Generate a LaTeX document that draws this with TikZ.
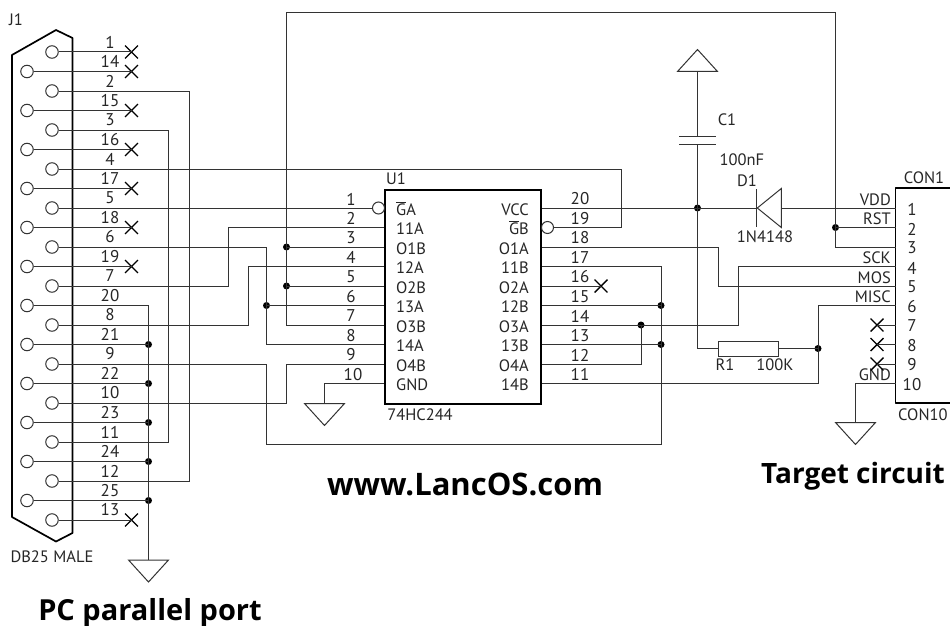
\documentclass[tikz,border=0pt]{standalone}
\usepackage{fontspec}
\setmainfont{PT Sans}
\newfontfamily\titlefont{Open Sans}
\usepackage{tikz}
\usetikzlibrary{shapes,positioning}
\definecolor{wirecol}{gray}{0.2}
\tikzset{
  wire/.style={draw=wirecol,line width=1pt,line join=miter},
  shell/.style={draw=black,line width=1.7pt,line join=round},
  hole/.style={circle,draw=wirecol,line width=1pt,fill=white,minimum size=12.5pt,inner sep=0pt},
  bubble/.style={circle,draw=wirecol,line width=1pt,minimum size=12pt,inner sep=0pt},
  dot/.style={circle,fill=black,minimum size=7pt,inner sep=0pt},
  nc/.style={cross out,draw=black,line width=1.4pt,minimum size=11.5pt,inner sep=0pt},
  gnd/.style={isosceles triangle,isosceles triangle stretches,shape border rotate=-90,
    draw=wirecol,line width=1pt,inner sep=0pt,minimum height=22pt,minimum width=40pt,anchor=lower side},
  vcc/.style={gnd,shape border rotate=90},
  num/.style={font=\fontsize{17}{17}\selectfont,text=black!85,inner sep=0pt},
  lab/.style={font=\fontsize{16.5}{17}\selectfont,text=black!85,inner sep=0pt},
  title/.style={font=\titlefont\fontsize{28}{30}\selectfont\bfseries,text=black,inner sep=0pt,anchor=base}
}
\begin{document}
\begin{tikzpicture}[x=1pt,y=-1pt,>=stealth]
    \useasboundingbox (0,0) rectangle (950,626);

    % DB25
    \coordinate (s1) at (12,55);
    \coordinate (s2) at (56,30);
    \coordinate (s3) at (72.5,38);
    \coordinate (s4) at (72.5,533);
    \coordinate (s5) at (56,541.5);
    \coordinate (s6) at (12,517);
    \draw [shell] (s1) -- (s2) -- (s3) -- (s4) -- (s5) -- (s6) -- cycle;
    \node[lab] (j1) at (16,20) {J1};
    \node[lab] (dbname) at (52,557) {DB25 MALE};
    \node[title,font=\titlefont\fontsize{29}{30}\selectfont\bfseries] (pcport) at (150,620) {PC parallel port};

    \node[hole] (p1) at (52,52) {};
    \node[hole] (p14) at (27,71.5) {};
    \node[hole] (p2) at (52,91) {};
    \node[hole] (p15) at (27,110.5) {};
    \node[hole] (p3) at (52,130) {};
    \node[hole] (p16) at (27,149.5) {};
    \node[hole] (p4) at (52,169) {};
    \node[hole] (p17) at (27,188.5) {};
    \node[hole] (p5) at (52,208) {};
    \node[hole] (p18) at (27,227.5) {};
    \node[hole] (p6) at (52,247) {};
    \node[hole] (p19) at (27,266.5) {};
    \node[hole] (p7) at (52,286) {};
    \node[hole] (p20) at (27,305.5) {};
    \node[hole] (p8) at (52,325) {};
    \node[hole] (p21) at (27,344.5) {};
    \node[hole] (p9) at (52,364) {};
    \node[hole] (p22) at (27,383.5) {};
    \node[hole] (p10) at (52,403) {};
    \node[hole] (p23) at (27,422.5) {};
    \node[hole] (p11) at (52,442) {};
    \node[hole] (p24) at (27,461.5) {};
    \node[hole] (p12) at (52,481) {};
    \node[hole] (p25) at (27,500.5) {};
    \node[hole] (p13) at (52,520) {};

    \node[num] (n1) at (110,42) {1};
    \node[num] (n14) at (110,61.5) {14};
    \node[num] (n2) at (110,81) {2};
    \node[num] (n15) at (110,100.5) {15};
    \node[num] (n3) at (110,120) {3};
    \node[num] (n16) at (110,139.5) {16};
    \node[num] (n4) at (110,159) {4};
    \node[num] (n17) at (110,178.5) {17};
    \node[num] (n5) at (110,198) {5};
    \node[num] (n18) at (110,217.5) {18};
    \node[num] (n6) at (110,237) {6};
    \node[num] (n19) at (110,256.5) {19};
    \node[num] (n7) at (110,276) {7};
    \node[num] (n20) at (110,295.5) {20};
    \node[num] (n8) at (110,315) {8};
    \node[num] (n21) at (110,334.5) {21};
    \node[num] (n9) at (110,354) {9};
    \node[num] (n22) at (110,373.5) {22};
    \node[num] (n10) at (110,393) {10};
    \node[num] (n23) at (110,412.5) {23};
    \node[num] (n11) at (110,432) {11};
    \node[num] (n24) at (110,451.5) {24};
    \node[num] (n12) at (110,471) {12};
    \node[num] (n25) at (110,490.5) {25};
    \node[num] (n13) at (110,510) {13};

    \node[nc] (x1) at (131.5,52) {};
    \node[nc] (x14) at (131.5,71.5) {};
    \node[nc] (x15) at (131.5,110.5) {};
    \node[nc] (x16) at (131.5,149.5) {};
    \node[nc] (x17) at (131.5,188.5) {};
    \node[nc] (x18) at (131.5,227.5) {};
    \node[nc] (x19) at (131.5,266.5) {};
    \node[nc] (x13) at (131.5,520) {};

    % U1
    \node[draw=black,line width=1.7pt,minimum width=156pt,minimum height=214pt,inner sep=0pt] (u1) at (463,297) {};
    \node[lab] (u1name) at (396,179) {U1};
    \node[lab] (u1type) at (420,415) {74HC244};
    \node[bubble] (bub1) at (378.5,208) {};
    \node[bubble] (bub19) at (547.5,227.5) {};

    \node[lab,anchor=base west] (ga) at (396,215) {$\overline{\mbox{G}}$A};
    \node[lab,anchor=base west] (a11) at (396,234.5) {11A};
    \node[lab,anchor=base west] (o1b) at (396,254) {O1B};
    \node[lab,anchor=base west] (a12) at (396,273.5) {12A};
    \node[lab,anchor=base west] (o2b) at (396,293) {O2B};
    \node[lab,anchor=base west] (a13) at (396,312.5) {13A};
    \node[lab,anchor=base west] (o3b) at (396,332) {O3B};
    \node[lab,anchor=base west] (a14) at (396,351.5) {14A};
    \node[lab,anchor=base west] (o4b) at (396,371) {O4B};
    \node[lab,anchor=base west] (ugnd) at (396,390.5) {GND};
    \node[lab,anchor=base east] (uvcc) at (529,215) {VCC};
    \node[lab,anchor=base east] (gb) at (529,234.5) {$\overline{\mbox{G}}$B};
    \node[lab,anchor=base east] (o1a) at (529,254) {O1A};
    \node[lab,anchor=base east] (b11) at (529,273.5) {11B};
    \node[lab,anchor=base east] (o2a) at (529,293) {O2A};
    \node[lab,anchor=base east] (b12) at (529,312.5) {12B};
    \node[lab,anchor=base east] (o3a) at (529,332) {O3A};
    \node[lab,anchor=base east] (b13) at (529,351.5) {13B};
    \node[lab,anchor=base east] (o4a) at (529,371) {O4A};
    \node[lab,anchor=base east] (b14) at (529,390.5) {14B};

    \node[num] (m1) at (351,199) {1};
    \node[num] (m2) at (351,218.5) {2};
    \node[num] (m3) at (351,238) {3};
    \node[num] (m4) at (351,257.5) {4};
    \node[num] (m5) at (351,277) {5};
    \node[num] (m6) at (351,296.5) {6};
    \node[num] (m7) at (351,316) {7};
    \node[num] (m8) at (351,335.5) {8};
    \node[num] (m9) at (351,355) {9};
    \node[num] (m10) at (353,374.5) {10};
    \node[num] (m20) at (580,199) {20};
    \node[num] (m19) at (580,218.5) {19};
    \node[num] (m18) at (580,238) {18};
    \node[num] (m17) at (580,257.5) {17};
    \node[num] (m16) at (580,277) {16};
    \node[num] (m15) at (580,296.5) {15};
    \node[num] (m14) at (580,316) {14};
    \node[num] (m13) at (580,335.5) {13};
    \node[num] (m12) at (580,355) {12};
    \node[num] (m11) at (580,374.5) {11};

    \coordinate (u2) at (u1.west |- 0,227.5);
    \coordinate (u3) at (u1.west |- 0,247);
    \coordinate (u4) at (u1.west |- 0,266.5);
    \coordinate (u5) at (u1.west |- 0,286);
    \coordinate (u6) at (u1.west |- 0,305.5);
    \coordinate (u7) at (u1.west |- 0,325);
    \coordinate (u8) at (u1.west |- 0,344.5);
    \coordinate (u9) at (u1.west |- 0,364);
    \coordinate (u10) at (u1.west |- 0,383.5);
    \coordinate (u20) at (u1.east |- 0,208);
    \coordinate (u18) at (u1.east |- 0,247);
    \coordinate (u17) at (u1.east |- 0,266.5);
    \coordinate (u16) at (u1.east |- 0,286);
    \coordinate (u15) at (u1.east |- 0,305.5);
    \coordinate (u14) at (u1.east |- 0,325);
    \coordinate (u13) at (u1.east |- 0,344.5);
    \coordinate (u12) at (u1.east |- 0,364);
    \coordinate (u11) at (u1.east |- 0,383.5);
    \node[nc] (x16u) at (601,286) {};

    % CON1
    \coordinate (c1) at (950,188);
    \coordinate (c2) at (895.5,188);
    \coordinate (c3) at (895.5,403);
    \coordinate (c4) at (950,403);
    \draw [shell] (c1) -- (c2) -- (c3) -- (c4);
    \node[lab] (conname) at (924,178) {CON1};
    \node[lab,anchor=west] (contype) at (898,415) {CON10};
    \node[title] (target) at (853,483) {Target circuit};
    \node[title,font=\titlefont\fontsize{31}{32}\selectfont\bfseries] (lancos) at (465,495) {www.LancOS.com};

    \node[num] (t1) at (912,209) {1};
    \node[num] (t2) at (912,229) {2};
    \node[num] (t3) at (912,248) {3};
    \node[num] (t4) at (912,268) {4};
    \node[num] (t5) at (912,287) {5};
    \node[num] (t6) at (912,306.5) {6};
    \node[num] (t7) at (912,326) {7};
    \node[num] (t8) at (912,345.5) {8};
    \node[num] (t9) at (912,365) {9};
    \node[num] (t10) at (912,384.5) {10};

    \node[lab,anchor=east] (vdd) at (891,200) {VDD};
    \node[lab,anchor=east] (rst) at (891,219) {RST};
    \node[lab,anchor=east] (sck) at (891,258) {SCK};
    \node[lab,anchor=east] (mos) at (891,278) {MOS};
    \node[lab,anchor=east] (misc) at (891,297) {MISC};
    \node[lab,anchor=east] (tgnd) at (891,375) {GND};

    \coordinate (k1) at (895.5,208);
    \coordinate (k2) at (895.5,227.5);
    \coordinate (k3) at (895.5,247);
    \coordinate (k4) at (895.5,266.5);
    \coordinate (k5) at (895.5,286);
    \coordinate (k6) at (895.5,305.5);
    \coordinate (k7) at (895.5,325);
    \coordinate (k8) at (895.5,344.5);
    \coordinate (k9) at (895.5,364);
    \coordinate (k10) at (895.5,383.5);
    \node[nc] (x7) at (877,325) {};
    \node[nc] (x8) at (877,344.5) {};
    \node[nc] (x9) at (877,364) {};

    % parts
    \node[vcc] (vcc) at (697.5,72) {};
    \coordinate (c1a) at (679,136.5);
    \coordinate (c1b) at (716,136.5);
    \coordinate (c1c) at (679,144.5);
    \coordinate (c1d) at (716,144.5);
    \coordinate (c1t) at (697.5,136.5);
    \coordinate (c1u) at (697.5,144.5);
    \node[lab] (c1name) at (727,120) {C1};
    \node[lab] (c1val) at (742,160) {100nF};
    \node[dot] (jd) at (697.5,208) {};

    \node[isosceles triangle,isosceles triangle stretches,shape border rotate=180,draw=wirecol,line width=1pt,
        inner sep=0pt,minimum height=24pt,minimum width=39pt,anchor=apex] (d1) at (756,208) {};
    \coordinate (d1a) at (756,189);
    \coordinate (d1b) at (756,227);
    \node[lab] (d1name) at (747,181) {D1};
    \node[lab] (d1val) at (765,237) {1N4148};

    \node[draw=wirecol,line width=1pt,minimum width=60pt,minimum height=15pt,inner sep=0pt] (r1) at (748,348.5) {};
    \node[lab] (r1name) at (725,365) {R1};
    \node[lab] (r1val) at (775,365) {100K};
    \coordinate (r1l) at (697.5,348.5);

    % junctions
    \node[dot] (j21) at (148.5,344.5) {};
    \node[dot] (j22) at (148.5,383.5) {};
    \node[dot] (j23) at (148.5,422.5) {};
    \node[dot] (j24) at (148.5,461.5) {};
    \node[dot] (j25) at (148.5,500.5) {};
    \node[gnd] (gndp) at (148.5,559.5) {};
    \node[dot] (j3) at (286.5,247) {};
    \node[dot] (j5) at (286.5,286) {};
    \node[dot] (j6) at (266.5,305.5) {};
    \node[dot] (j15) at (661,305.5) {};
    \node[dot] (j13) at (661,344.5) {};
    \node[dot] (j14) at (641,325) {};
    \node[dot] (jrst) at (835.5,227.5) {};
    \node[dot] (jr1) at (818,348.5) {};
    \node[gnd] (gndu) at (324.5,403) {};
    \node[gnd] (gndt) at (855.5,422) {};

    % bends
    \coordinate (b2a) at (189,91);
    \coordinate (b2b) at (189,481);
    \coordinate (b3a) at (168.5,130);
    \coordinate (b3b) at (168.5,442);
    \coordinate (b4a) at (621,169);
    \coordinate (b4b) at (621,227.5);
    \coordinate (b7a) at (228,286);
    \coordinate (b7b) at (228,227.5);
    \coordinate (b8a) at (248.5,325);
    \coordinate (b8b) at (248.5,266.5);
    \coordinate (b6a) at (266.5,247);
    \coordinate (b6b) at (266.5,344.5);
    \coordinate (b9a) at (266.5,364);
    \coordinate (b9b) at (266.5,444);
    \coordinate (b9c) at (661,444);
    \coordinate (b9d) at (661,266.5);
    \coordinate (b10a) at (286.5,403);
    \coordinate (b10b) at (286.5,364);
    \coordinate (b20) at (148.5,305.5);
    \coordinate (bu7) at (286.5,325);
    \coordinate (btop1) at (286.5,13);
    \coordinate (btop2) at (835.5,13);
    \coordinate (btop3) at (835.5,247);
    \coordinate (bg) at (324.5,383.5);
    \coordinate (b14a) at (738,325);
    \coordinate (b14b) at (738,266.5);
    \coordinate (b18a) at (718,247);
    \coordinate (b18b) at (718,286);
    \coordinate (b12) at (641,364);
    \coordinate (b11a) at (818,383.5);
    \coordinate (b11b) at (818,305.5);
    \coordinate (bg2) at (855.5,383.5);

    \begin{scope}[every path/.style={wire}]
    \draw (p1) -- (x1.center);
    \draw (p14) -- (x14.center);
    \draw (p15) -- (x15.center);
    \draw (p16) -- (x16.center);
    \draw (p17) -- (x17.center);
    \draw (p18) -- (x18.center);
    \draw (p19) -- (x19.center);
    \draw (p13) -- (x13.center);
    \draw (p2) -- (b2a) -- (b2b) -- (p12);
    \draw (p3) -- (b3a) -- (b3b) -- (p11);
    \draw (p4) -- (b4a) -- (b4b) -- (bub19);
    \draw (p5) -- (bub1);
    \draw (p7) -- (b7a) -- (b7b) -- (u2);
    \draw (p8) -- (b8a) -- (b8b) -- (u4);
    \draw (p6) -- (b6a) -- (b6b) -- (u8);
    \draw (j6.center) -- (u6);
    \draw (p9) -- (b9a) -- (b9b) -- (b9c) -- (b9d) -- (u17);
    \draw (p10) -- (b10a) -- (b10b) -- (u9);
    \draw (p20) -- (b20) -- (gndp.lower side);
    \draw (p21) -- (j21.center);
    \draw (p22) -- (j22.center);
    \draw (p23) -- (j23.center);
    \draw (p24) -- (j24.center);
    \draw (p25) -- (j25.center);
    \draw (u7) -- (bu7) -- (btop1) -- (btop2) -- (btop3) -- (k3);
    \draw (j3.center) -- (u3);
    \draw (j5.center) -- (u5);
    \draw (jrst.center) -- (k2);
    \draw (u10) -- (bg) -- (gndu.lower side);
    \draw (u16) -- (x16u.center);
    \draw (u15) -- (j15.center);
    \draw (u13) -- (j13.center);
    \draw (u14) -- (b14a) -- (b14b) -- (k4);
    \draw (u12) -- (b12) -- (j14.center);
    \draw (u18) -- (b18a) -- (b18b) -- (k5);
    \draw (u11) -- (b11a) -- (b11b) -- (k6);
    \draw (u20) -- (jd.center);
    \draw (jd.center) -- (d1.apex);
    \draw (d1.lower side) -- (k1);
    \draw (d1a) -- (d1b);
    \draw (vcc.lower side) -- (c1t);
    \draw (c1a) -- (c1b);
    \draw (c1c) -- (c1d);
    \draw (c1u) -- (jd.center);
    \draw (jd.center) -- (r1l) -- (r1);
    \draw (r1) -- (jr1.center);
    \draw (x7.center) -- (k7);
    \draw (x8.center) -- (k8);
    \draw (x9.center) -- (k9);
    \draw (k10) -- (bg2) -- (gndt.lower side);
    \end{scope}
\end{tikzpicture}
\end{document}
